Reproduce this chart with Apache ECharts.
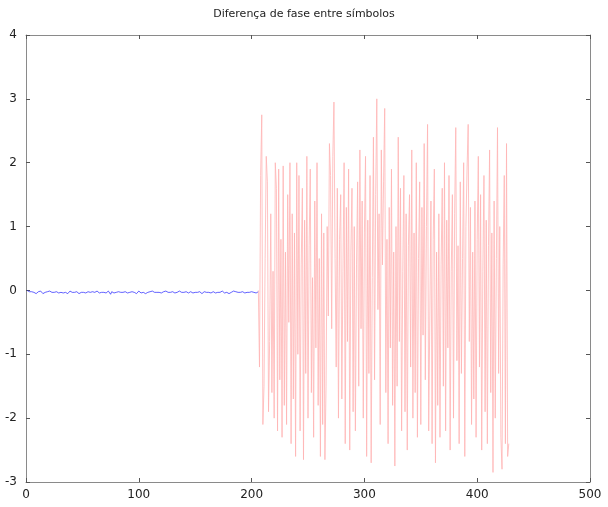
<!DOCTYPE html>
<html><head><meta charset="utf-8">
<script src="https://cdn.jsdelivr.net/npm/echarts@6/dist/echarts.min.js"></script>
<style>html,body{margin:0;padding:0;background:#fff}#c{width:608px;height:507px}</style>
</head><body><div id="c"></div>
<script>
const titleText = 'Diferença de fase entre símbolos';
const xTicks = [0, 100, 200, 300, 400, 500];
const yTicks = [-3, -2, -1, 0, 1, 2, 3, 4];
const blueStart = 1;
const blueValues = [
 0.00,-0.01,-0.02,-0.03,-0.02,-0.04,-0.03,-0.02,-0.05,-0.03,
-0.02,-0.04,-0.01,-0.03,-0.05,-0.02,-0.03,-0.04,-0.02,-0.03,
-0.01,-0.04,-0.03,-0.02,-0.03,-0.05,-0.02,-0.03,-0.04,-0.01,
-0.03,-0.02,-0.04,-0.03,-0.03,-0.02,-0.05,-0.03,-0.01,-0.04,
-0.03,-0.02,-0.03,-0.04,-0.02,-0.03,-0.05,-0.02,-0.03,-0.04,
-0.03,-0.01,-0.04,-0.03,-0.02,-0.03,-0.03,-0.05,-0.02,-0.04,
-0.03,-0.02,-0.01,-0.03,-0.04,-0.02,-0.03,-0.05,-0.03,-0.02,
-0.04,-0.03,-0.01,-0.03,-0.06,-0.02,-0.03,-0.04,-0.02,-0.03,
-0.03,-0.02,-0.04,-0.03,-0.01,-0.03,-0.05,-0.02,-0.03,-0.04,
-0.02,-0.03,-0.03,-0.02,-0.04,-0.03,-0.02,-0.05,-0.03,-0.01,
-0.03,-0.04,-0.02,-0.03,-0.03,-0.05,-0.02,-0.03,-0.04,-0.02,
-0.03,-0.01,-0.04,-0.03,-0.02,-0.03,-0.05,-0.03,-0.02,-0.04,
-0.03,-0.02,-0.03,-0.01,-0.04,-0.03,-0.02,-0.03,-0.05,-0.02,
-0.03,-0.04,-0.02,-0.03,-0.03,-0.01,-0.04,-0.03,-0.02,-0.03,
-0.05,-0.02,-0.03,-0.04,-0.03,-0.02,-0.03,-0.04,-0.02,-0.03,
-0.01,-0.03,-0.04,-0.02,-0.03,-0.05,-0.03,-0.02,-0.04,-0.03,
-0.02,-0.03,-0.01,-0.04,-0.03,-0.02,-0.03,-0.04,-0.02,-0.03,
-0.05,-0.03,-0.02,-0.01,-0.03,-0.04,-0.02,-0.03,-0.03,-0.05,
-0.02,-0.03,-0.04,-0.01,-0.03,-0.02,-0.04,-0.03,-0.02,-0.03,
-0.05,-0.02,-0.03,-0.04,-0.02,-0.03,-0.01,-0.03,-0.04,-0.02,
-0.03,-0.03,-0.02,-0.04,-0.03,-0.02
];
const redStart = 206;
const redValues = [
 0.00,-1.20, 1.80, 2.75,-2.10,-1.50, 0.50, 2.10, 1.70,-1.90,
-0.80, 1.20,-1.60, 0.30,-2.00, 2.00, 1.60,-2.20, 1.90,-1.40,
 0.80,-2.30, 1.95,-1.80, 0.60,-2.10, 1.50,-0.50, 2.00,-2.40,
 1.20,-1.70, 0.90,-2.60, 2.00,-1.00, 1.80,-2.20, 0.40, 1.60,
-2.65, 1.10,-1.30, 2.10,-2.00, 0.70, 1.90,-1.60, 0.20,-2.30,
 1.40,-0.90, 2.00,-1.80, 0.50,-2.60, 1.20,-2.10, 0.90,-2.65,
-1.50, 1.00,-0.40, 2.30, 1.80,-0.60, 2.10, 2.95, 0.50,-1.20,
 1.60,-2.00, 0.80, 1.50,-1.70, 0.30, 2.00,-2.40, 1.30,-0.80,
 1.90,-2.50, 0.60, 1.60,-1.90, 1.00,-2.20, 0.40, 1.70,-1.50,
 2.20,-0.60, 1.40,-2.00, 0.90, 2.10,-2.60, 1.10,-1.30, 1.80,
-2.70, 0.20, 2.40,-1.40, 1.50, 3.00,-0.30, 1.20,-2.10, 2.20,
 0.40, 1.70, 2.85,-1.60, 0.80,-2.40, 1.30,-0.90, 1.90,-1.80,
 0.60,-2.75, 1.00,-1.50, 2.40,-0.80, 1.60,-2.20, 0.30, 1.80,
-1.90, 1.20,-2.50, 0.70, 1.50,-1.20, 2.20,-2.00, 0.90,-1.60,
 2.00,-2.30, 0.50, 1.70,-2.10, 1.30,-0.70, 2.30,-1.40, 1.00,
 2.60,-2.20,-0.40, 1.40,-2.40, 0.80, 1.90,-2.70, 0.60,-1.80,
 1.20,-2.30, 0.40, 1.60,-1.50, 2.00,-2.20, 1.10,-0.90, 1.80,
-2.50, 0.30, 1.50,-2.00, 1.20, 2.55,-1.10, 0.70,-2.40, 1.70,
-1.30, 0.50, 2.00,-2.60, 1.00, 1.90, 2.60,-0.80, 1.30,-2.10,
 0.60,-1.70, 1.40,-2.30, 0.80, 2.10,-1.20, 1.50,-2.50, 0.30,
 1.80,-1.90, 1.10,-2.40, 0.70, 2.20,-1.60, 0.90,-2.85, 1.40,
-2.00, 0.50, 2.55,-1.30, 1.00,-2.30,-2.80, 0.40, 1.80,-2.40,
 2.30,-2.60,-2.40
];

const blueData = blueValues.map((v, i) => [blueStart + i, v]);
const redData = redValues.map((v, i) => [redStart + i, v]);

const chart = echarts.init(document.getElementById('c'), null, {renderer: 'canvas'});
const axisColor = '#8a8a8a';
const lblFont = {color: '#222', fontSize: 12, fontFamily: 'DejaVu Sans'};
function axLine(){ return {show: true, onZero: false, lineStyle: {color: axisColor}}; }
function axTick(){ return {show: true, inside: true, length: 4, lineStyle: {color: '#555'}}; }
chart.setOption({
  animation: false,
  title: {text: titleText, left: 'center', top: 4,
    textStyle: {fontSize: 11, fontWeight: 'normal', color: '#222', fontFamily: 'DejaVu Sans'}},
  grid: {left: 26, right: 18, top: 35, bottom: 25, containLabel: false},
  xAxis: [
    {type: 'value', min: xTicks[0], max: xTicks[xTicks.length-1], interval: 100, position: 'bottom',
     axisLine: axLine(), axisTick: axTick(),
     axisLabel: Object.assign({margin: 7}, lblFont), splitLine: {show: false}},
    {type: 'value', min: xTicks[0], max: xTicks[xTicks.length-1], interval: 100, position: 'top',
     axisLine: axLine(), axisTick: axTick(),
     axisLabel: {show: false}, splitLine: {show: false}}
  ],
  yAxis: [
    {type: 'value', min: yTicks[0], max: yTicks[yTicks.length-1], interval: 1, position: 'left',
     axisLine: axLine(), axisTick: axTick(),
     axisLabel: Object.assign({margin: 9}, lblFont), splitLine: {show: false}},
    {type: 'value', min: yTicks[0], max: yTicks[yTicks.length-1], interval: 1, position: 'right',
     axisLine: axLine(), axisTick: axTick(),
     axisLabel: {show: false}, splitLine: {show: false}}
  ],
  series: [
    {type: 'line', data: blueData, xAxisIndex: 0, yAxisIndex: 0, showSymbol: false,
     lineStyle: {color: '#2020ff', width: 0.7}},
    {type: 'line', data: redData, xAxisIndex: 0, yAxisIndex: 0, showSymbol: false,
     lineStyle: {color: '#ffb4b4', width: 0.8}}
  ]
});
</script></body></html>
